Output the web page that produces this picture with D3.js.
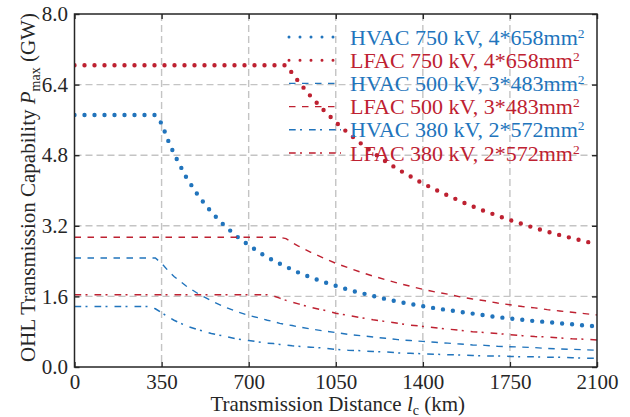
<!DOCTYPE html>
<html>
<head>
<meta charset="utf-8">
<script src="https://cdn.jsdelivr.net/npm/d3@7.9.0/dist/d3.min.js"></script>
<style>
  html, body { margin: 0; padding: 0; background: #fff; }
  svg { display: block; font-family: "Liberation Serif", "Times New Roman", serif; }
</style>
</head>
<body>
<svg id="chart" width="630" height="417"></svg>
<script>
/* Data */
const distanceKm = [0, 100, 200, 300, 325, 350, 375, 400, 450, 500, 550, 600, 650, 700, 750, 775, 800, 825, 850, 875,
  900, 950, 1000, 1050, 1100, 1150, 1200, 1250, 1300, 1350, 1400, 1450, 1500, 1550, 1600, 1650, 1700, 1750, 1800,
  1850, 1900, 1950, 2000, 2050, 2100];

const hvac750 = [5.71, 5.71, 5.71, 5.71, 5.71, 5.52, 5.15, 4.83, 4.29, 3.86, 3.51, 3.22, 2.97, 2.76, 2.57, 2.49, 2.41, 2.34, 2.27, 2.21,
  2.14, 2.03, 1.93, 1.84, 1.75, 1.68, 1.61, 1.54, 1.48, 1.43, 1.38, 1.33, 1.29, 1.25, 1.21, 1.17, 1.13, 1.10, 1.07,
  1.04, 1.02, 0.99, 0.97, 0.94, 0.92];
const lfac750 = [6.84, 6.84, 6.84, 6.84, 6.84, 6.84, 6.84, 6.84, 6.84, 6.84, 6.84, 6.84, 6.84, 6.84, 6.84, 6.84, 6.84, 6.84, 6.84, 6.66,
  6.47, 6.13, 5.83, 5.55, 5.30, 5.07, 4.86, 4.66, 4.48, 4.32, 4.16, 4.02, 3.89, 3.76, 3.64, 3.53, 3.43, 3.33, 3.24,
  3.15, 3.07, 2.99, 2.92, 2.85, 2.78];
const hvac500 = [2.47, 2.47, 2.47, 2.47, 2.47, 2.35, 2.19, 2.05, 1.83, 1.65, 1.50, 1.37, 1.26, 1.17, 1.10, 1.06, 1.03, 0.99, 0.96, 0.94,
  0.91, 0.86, 0.82, 0.78, 0.74, 0.71, 0.68, 0.65, 0.62, 0.60, 0.58, 0.56, 0.54, 0.52, 0.50, 0.49, 0.47, 0.46, 0.45,
  0.44, 0.42, 0.41, 0.40, 0.39, 0.38];
const lfac500 = [2.94, 2.94, 2.94, 2.94, 2.94, 2.94, 2.94, 2.94, 2.94, 2.94, 2.94, 2.94, 2.94, 2.94, 2.94, 2.94, 2.94, 2.94, 2.91, 2.82,
  2.74, 2.60, 2.47, 2.35, 2.25, 2.15, 2.06, 1.98, 1.90, 1.83, 1.76, 1.70, 1.65, 1.59, 1.54, 1.50, 1.45, 1.41, 1.37,
  1.34, 1.30, 1.27, 1.24, 1.21, 1.18];
const hvac380 = [1.37, 1.37, 1.37, 1.37, 1.32, 1.23, 1.14, 1.06, 0.93, 0.84, 0.76, 0.70, 0.64, 0.60, 0.56, 0.54, 0.53, 0.51, 0.50, 0.48,
  0.47, 0.45, 0.43, 0.40, 0.38, 0.37, 0.35, 0.34, 0.32, 0.31, 0.30, 0.29, 0.28, 0.27, 0.26, 0.25, 0.25, 0.24, 0.23,
  0.23, 0.22, 0.22, 0.21, 0.20, 0.20];
const lfac380 = [1.64, 1.64, 1.64, 1.64, 1.64, 1.64, 1.64, 1.64, 1.64, 1.64, 1.64, 1.64, 1.64, 1.64, 1.64, 1.64, 1.61, 1.56, 1.51, 1.47,
  1.43, 1.35, 1.29, 1.22, 1.17, 1.12, 1.07, 1.03, 0.99, 0.95, 0.92, 0.89, 0.86, 0.83, 0.80, 0.78, 0.76, 0.73, 0.71,
  0.69, 0.68, 0.66, 0.64, 0.63, 0.61];

const xTicks = [0, 350, 700, 1050, 1400, 1750, 2100];
const yTicks = [0, 1.6, 3.2, 4.8, 6.4, 8.0];

const BLUE = '#2174bc';
const RED = '#be2131';

// label, values, colour, line style
const series = [
  { label: 'HVAC 750 kV, 4*658mm', values: hvac750, color: BLUE, style: 'dot' },
  { label: 'LFAC 750 kV, 4*658mm', values: lfac750, color: RED, style: 'dot' },
  { label: 'HVAC 500 kV, 3*483mm', values: hvac500, color: BLUE, style: 'dash' },
  { label: 'LFAC 500 kV, 3*483mm', values: lfac500, color: RED, style: 'dash' },
  { label: 'HVAC 380 kV, 2*572mm', values: hvac380, color: BLUE, style: 'dashdot' },
  { label: 'LFAC 380 kV, 2*572mm', values: lfac380, color: RED, style: 'dashdot' },
];

const styles = {
  dot: { width: 4.4, dash: '0 10', cap: 'round' },
  dash: { width: 1.4, dash: '6.5 6.5', cap: 'butt' },
  dashdot: { width: 1.5, dash: '6.7 4.3 2 7', cap: 'butt' },
};

const plot = { left: 74.5, right: 597, top: 14, bottom: 367 };
const svg = d3.select('#chart');
const ink = '#262626';

const x = d3.scaleLinear().domain([0, 2100]).range([plot.left, plot.right]);
const y = d3.scaleLinear().domain([0, 8]).range([plot.bottom, plot.top]);

// grid
const grid = svg.append('g')
  .attr('stroke', '#c4c4c4')
  .attr('stroke-width', 1.4)
  .attr('stroke-dasharray', '7 4');
grid.selectAll('.gx')
  .data(xTicks.slice(1, -1))
  .enter()
  .append('line')
  .attr('x1', (d) => x(d)).attr('x2', (d) => x(d))
  .attr('y1', plot.top).attr('y2', plot.bottom);
grid.selectAll('.gy')
  .data(yTicks.slice(1, -1))
  .enter()
  .append('line')
  .attr('y1', (d) => y(d)).attr('y2', (d) => y(d))
  .attr('x1', plot.left).attr('x2', plot.right);

// curves
svg.append('clipPath').attr('id', 'plot-clip')
  .append('rect')
  .attr('x', plot.left).attr('y', plot.top - 3)
  .attr('width', plot.right - plot.left).attr('height', plot.bottom - plot.top + 3);

const line = d3.line()
  .x((d) => x(d[0]))
  .y((d) => y(d[1]));

svg.append('g')
  .attr('clip-path', 'url(#plot-clip)')
  .selectAll('path')
  .data(series)
  .enter()
  .append('path')
  .attr('fill', 'none')
  .attr('stroke', (d) => d.color)
  .attr('stroke-width', (d) => styles[d.style].width)
  .attr('stroke-dasharray', (d) => styles[d.style].dash)
  .attr('stroke-linecap', (d) => styles[d.style].cap)
  .attr('d', (d) => line(d.values.map((v, i) => [distanceKm[i], v])));

// axes with inward ticks
svg.append('g')
  .attr('transform', `translate(0,${plot.bottom})`)
  .call(d3.axisBottom(x).tickValues(xTicks).tickFormat(d3.format('d')).tickSize(-5).tickPadding(7));
svg.append('g')
  .attr('transform', `translate(${plot.left},0)`)
  .call(d3.axisLeft(y).tickValues(yTicks).tickFormat(d3.format('.1f')).tickSize(-5).tickPadding(6.5));
svg.append('g')
  .attr('transform', `translate(0,${plot.top})`)
  .call(d3.axisTop(x).tickValues(xTicks).tickSize(-5).tickFormat(''));
svg.append('g')
  .attr('transform', `translate(${plot.right},0)`)
  .call(d3.axisRight(y).tickValues(yTicks).tickSize(-5).tickFormat(''));

svg.selectAll('.domain').remove();
svg.selectAll('.tick line').attr('stroke', ink).attr('stroke-width', 1.4);
svg.selectAll('.tick text')
  .attr('fill', ink)
  .style('font-size', '21px')
  .style('font-family', '"Liberation Serif", "Times New Roman", serif');

svg.append('rect')
  .attr('x', plot.left).attr('y', plot.top)
  .attr('width', plot.right - plot.left).attr('height', plot.bottom - plot.top)
  .attr('fill', 'none')
  .attr('stroke', ink)
  .attr('stroke-width', 1.5);

// axis titles
const xTitle = svg.append('text')
  .attr('x', (plot.left + plot.right) / 2 + 2)
  .attr('y', 411)
  .attr('text-anchor', 'middle')
  .attr('fill', ink)
  .style('font-size', '21px');
xTitle.append('tspan').text('Transmission Distance ');
xTitle.append('tspan').attr('font-style', 'italic').text('l');
xTitle.append('tspan').attr('dy', 3.5).style('font-size', '14px').text('c');
xTitle.append('tspan').attr('dy', -3.5).text(' (km)');

const yTitle = svg.append('text')
  .attr('transform', `translate(35,${(plot.top + plot.bottom) / 2 - 3}) rotate(-90)`)
  .attr('text-anchor', 'middle')
  .attr('fill', ink)
  .style('font-size', '21px');
yTitle.append('tspan').text('OHL Transmission Capability ');
yTitle.append('tspan').attr('font-style', 'italic').text('P');
yTitle.append('tspan').attr('dy', 5).style('font-size', '14px').text('max');
yTitle.append('tspan').attr('dy', -5).text(' (GW)');

// legend
const rows = svg.append('g')
  .selectAll('g')
  .data(series)
  .enter()
  .append('g')
  .attr('transform', (d, i) => `translate(0,${37 + i * 23.2})`);

rows.append('line')
  .attr('x1', 289).attr('x2', 341)
  .attr('y1', 0).attr('y2', 0)
  .attr('stroke', (d) => d.color)
  .attr('stroke-width', (d) => (d.style === 'dot' ? 3 : styles[d.style].width))
  .attr('stroke-dasharray', (d) => (d.style === 'dot' ? '0 11' : styles[d.style].dash))
  .attr('stroke-linecap', (d) => styles[d.style].cap);

const labels = rows.append('text')
  .attr('x', 350)
  .attr('y', 7.5)
  .attr('fill', (d) => d.color)
  .style('font-size', '22px');
labels.append('tspan').text((d) => d.label);
labels.append('tspan').attr('dy', -7).style('font-size', '13.5px').text('2');
</script>
</body>
</html>
